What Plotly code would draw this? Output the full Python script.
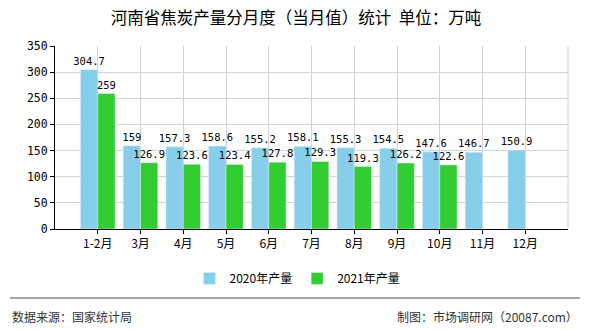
import plotly.graph_objects as go

categories = ["1-2月", "3月", "4月", "5月", "6月", "7月", "8月", "9月", "10月", "11月", "12月"]
values_2020 = [304.7, 159, 157.3, 158.6, 155.2, 158.1, 155.3, 154.5, 147.6, 146.7, 150.9]
values_2021 = [259, 126.9, 123.6, 123.4, 127.8, 129.3, 119.3, 126.2, 122.6, None, None]
series_names = ["2020年产量", "2021年产量"]
y_ticks = [0, 50, 100, 150, 200, 250, 300, 350]

def fmt(v):
    if v is None:
        return ""
    return ("%g" % v)

cjk = "Noto Sans CJK SC"
mono = "DejaVu Sans Mono"

fig = go.Figure()
fig.add_trace(go.Bar(x=categories, y=values_2020, name=series_names[0], marker_color="#87CEEB",
                     text=[fmt(v) for v in values_2020], textposition="outside",
                     textfont=dict(family=mono, size=10.5, color="#000"), cliponaxis=False,
                     constraintext="none"))
fig.add_trace(go.Bar(x=categories, y=values_2021, name=series_names[1], marker_color="#32CD32",
                     text=[fmt(v) for v in values_2021], textposition="outside",
                     textfont=dict(family=mono, size=10.5, color="#000"), cliponaxis=False,
                     constraintext="none"))

fig.update_layout(
    width=590, height=330,
    margin=dict(l=55, r=22, t=46, b=101),
    paper_bgcolor="white", plot_bgcolor="white",
    barmode="group", bargap=0.19, bargroupgap=0,
    title=dict(text="河南省焦炭产量分月度（当月值）统计  单位：万吨", x=296 / 590, xanchor="center",
               y=1 - 18 / 330, yanchor="middle", font=dict(family=cjk, size=16.5, color="#000")),
    font=dict(family=cjk, size=12, color="#000"),
    legend=dict(orientation="h", x=0.5 - 14 / 513, xanchor="center", y=-0.27, yanchor="middle",
                font=dict(family=cjk, size=12, color="#000"), itemwidth=30),
    showlegend=True,
)
fig.update_xaxes(type="category", range=[-1, 11], showgrid=True, gridcolor="#d3d3d3",
                 showline=True, linecolor="#000", linewidth=1, ticks="outside", ticklen=4,
                 tickcolor="#000", tickfont=dict(family=cjk, size=12, color="#000"),
                 mirror=False)
fig.update_yaxes(range=[0, 350], tickvals=y_ticks, showgrid=True, gridcolor="#d3d3d3",
                 showline=True, linecolor="#000", linewidth=1, ticks="outside", ticklen=4,
                 tickcolor="#000", tickfont=dict(family=mono, size=11.5, color="#000"),
                 zeroline=False)

# right border of plot (light grey)
fig.add_shape(type="line", xref="paper", yref="paper", x0=1, x1=1, y0=0, y1=1,
              line=dict(color="#d3d3d3", width=1))
# footer line
fig.add_shape(type="line", xref="paper", yref="paper",
              x0=(10 - 55) / 513, x1=(580 - 55) / 513,
              y0=(229 - 298) / 183, y1=(229 - 298) / 183,
              line=dict(color="#888", width=1.5))
fig.add_annotation(text="数据来源：国家统计局", xref="paper", yref="paper",
                   x=(10 - 55) / 513, xanchor="left", y=(229 - 316) / 183, yanchor="middle",
                   showarrow=False, font=dict(family=cjk, size=12, color="#333"))
fig.add_annotation(text="制图：市场调研网（20087.com）", xref="paper", yref="paper",
                   x=(580 - 55) / 513, xanchor="right", y=(229 - 316) / 183, yanchor="middle",
                   showarrow=False, font=dict(family=cjk, size=12, color="#333"))

fig.write_html("out.html")
